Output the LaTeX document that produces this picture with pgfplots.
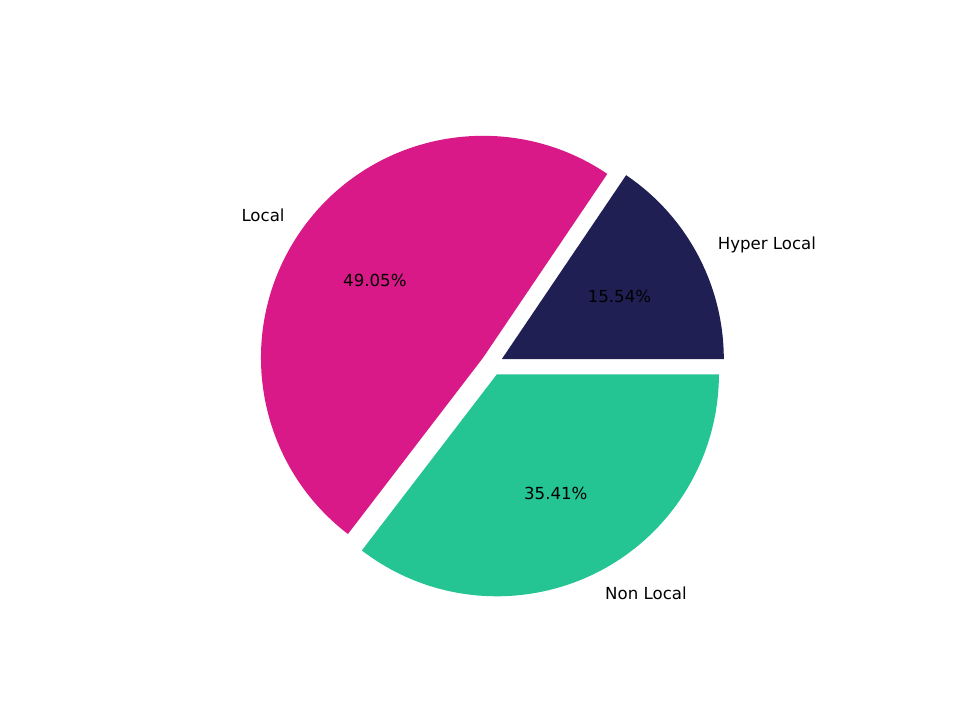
\documentclass[border=0pt]{standalone}
\usepackage{pgfplots}
\pgfplotsset{compat=1.18}
\usepackage{fontspec}
\setmainfont{DejaVu Sans}

\definecolor{hyper}{RGB}{31,31,84}
\definecolor{localc}{RGB}{216,25,135}
\definecolor{nonlocal}{RGB}{37,196,147}

% shares in percent, drawn counter-clockwise from 0 degrees
\def\R{2.22in}
\def\explode{0.05}
\newcommand\labfont{\fontsize{12}{14}\selectfont}

\begin{document}
\begin{tikzpicture}
\begin{axis}[
    hide axis,
    x=2.22in, y=2.22in,
    xmin=-2.216, xmax=2.108,
    ymin=-1.602, ymax=1.641,
    clip=false,
]
\path (axis cs:-2.216,-1.602) rectangle (axis cs:2.108,1.641);

\foreach \val/\col/\lab [remember=\stop as \start (initially 0)] in
    {15.54/hyper/Hyper Local, 49.05/localc/Local, 35.41/nonlocal/Non Local} {
  \pgfmathsetmacro{\stop}{\start+3.6*\val}
  \pgfmathsetmacro{\mid}{(\start+\stop)/2}
  \pgfmathsetmacro{\ox}{\explode*cos(\mid)}
  \pgfmathsetmacro{\oy}{\explode*sin(\mid)}
  \pgfmathsetmacro{\px}{\ox+0.6*cos(\mid)}
  \pgfmathsetmacro{\py}{\oy+0.6*sin(\mid)}
  \pgfmathsetmacro{\lx}{\ox+1.1*cos(\mid)}
  \pgfmathsetmacro{\ly}{\oy+1.1*sin(\mid)}
  \ifdim\lx pt>0pt \def\anch{west}\else\def\anch{east}\fi
  \edef\doit{%
    \noexpand\fill[\col] (axis cs:\ox,\oy) -- ++(\start:\R)
      arc[start angle=\start, end angle=\stop, radius=\R] -- cycle;
    \noexpand\node[font=\noexpand\labfont] at (axis cs:\px,\py) {\val\noexpand\%};
    \noexpand\node[anchor=\anch, inner sep=0pt, font=\noexpand\labfont]
      at (axis cs:\lx,\ly) {\lab};
  }\doit
}
\end{axis}
\end{tikzpicture}
\end{document}
